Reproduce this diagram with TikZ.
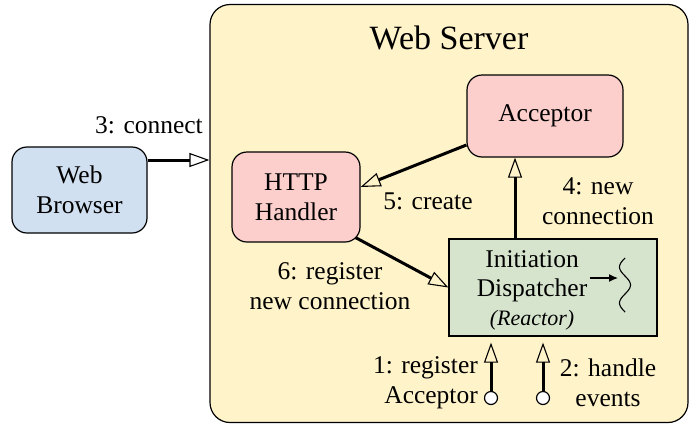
\documentclass[tikz,border=0pt]{standalone}
\usepackage{fontspec}
\setmainfont{Liberation Serif}[Ligatures=TeX]
\newfontfamily\ser{Liberation Serif}
\usetikzlibrary{arrows.meta}
\definecolor{srvfill}{HTML}{FFF3C9}
\definecolor{brfill}{HTML}{D0E0F0}
\definecolor{pkfill}{HTML}{FCCFCC}
\definecolor{grfill}{HTML}{D6E4CD}
\begin{document}
\begin{tikzpicture}[x=1pt,y=-1pt,
  txt/.style={font=\ser\fontsize{25.5}{30}\selectfont, align=center, inner sep=0pt},
  rbox/.style={draw, line width=1.2pt, rounded corners=15pt, align=center, inner sep=0pt, font=\ser\fontsize{25.5}{30}\selectfont},
  conn/.style={line width=3pt, -{Triangle[open, length=20pt, width=14pt, line width=1.1pt]}},
  dot/.style={circle, draw, line width=1.2pt, fill=white, minimum size=13pt, inner sep=0pt}]
\useasboundingbox (0,0) rectangle (692,426);
\node[rbox, fill=srvfill, rounded corners=20pt, minimum width=478pt, minimum height=418pt] (srv) at (449,213.5) {};
\node[txt, font=\ser\fontsize{34}{38}\selectfont] (title) at (449,38) {Web Server};
\node[rbox, fill=brfill, minimum width=135pt, minimum height=86pt] (br) at (79.5,190) {Web\\Browser};
\node[rbox, fill=pkfill, minimum width=128pt, minimum height=90pt] (http) at (296,197) {HTTP\\Handler};
\node[rbox, fill=pkfill, minimum width=156pt, minimum height=82pt] (acc) at (545,116) {Acceptor};
\node[draw, line width=1.2pt, fill=grfill, minimum width=208pt, minimum height=97pt, inner sep=0pt] (disp) at (553,287.5) {};
\node[txt, anchor=base] (l1) at (532,267) {Initiation};
\node[txt, anchor=base] (l2) at (532,296) {Dispatcher};
\node[txt, anchor=base, font=\ser\itshape\fontsize{22}{25}\selectfont] (l3) at (532,325) {(Reactor)};
\draw[line width=1.3pt, -{Latex[length=9pt, width=8pt]}] (590,278) -- (618,278);
\draw[line width=1.1pt] plot[domain=0:54, samples=60, smooth] ({625+5.5*sin(-\x/54*540)}, {258+\x});
% connectors
\draw[conn] ([yshift=30pt]br.east) -- ([yshift=30pt]br.east -| srv.west);
\node[txt, anchor=east] (t3) at (203,125) {3: connect};
\draw[conn] ([yshift=-29pt]acc.west) -- ([yshift=10pt]http.east);
\node[txt] (t5) at (428,201) {5: create};
\draw[conn] ([xshift=-38pt]disp.north) -- ([xshift=-38pt]disp.north |- acc.south);
\node[txt] (t4) at (598,201) {4: new\\connection};
\draw[conn] ([xshift=-5pt,yshift=5pt]http.south east) -- (disp.west);
\node[txt] (t6) at (330,286) {6: register\\new connection};
\node[dot] (c1) at (491,398) {};
\node[dot] (c2) at (543,398) {};
\draw[conn] (c1) -- ([yshift=-6pt]disp.south -| c1);
\draw[conn] (c2) -- ([yshift=-6pt]disp.south -| c2);
\node[txt, align=right, anchor=east] (t1) at (478,383) {1: register\\Acceptor};
\node[txt] (t2) at (608,383) {2: handle\\events};
\end{tikzpicture}
\end{document}
